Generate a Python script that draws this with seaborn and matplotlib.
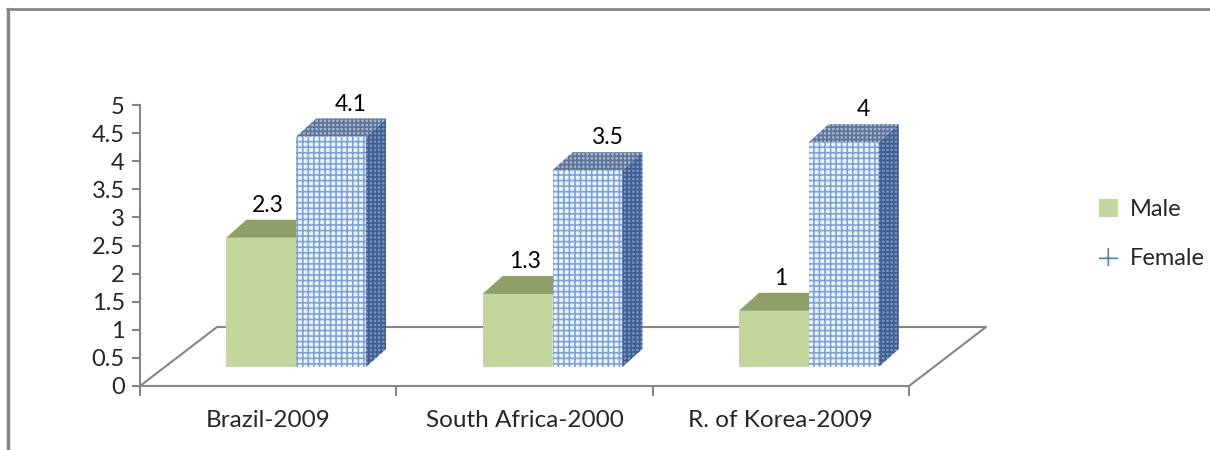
import numpy as np
import pandas as pd
import seaborn as sns
import matplotlib.pyplot as plt
from matplotlib.patches import Polygon, Patch
from matplotlib.lines import Line2D
from matplotlib.transforms import offset_copy

countries = ['Brazil-2009', 'South Africa-2000', 'R. of Korea-2009']
series = ['Male', 'Female']
male = [2.3, 1.3, 1.0]
female = [4.1, 3.5, 4.0]
yticks = np.arange(0, 5.01, 0.5)

df = pd.DataFrame({'country': countries * 2,
                   'sex': ['Male'] * 3 + ['Female'] * 3,
                   'value': male + female})

sns.set_style('white')
plt.rcParams['font.family'] = ['Lato', 'DejaVu Sans']
plt.rcParams['hatch.linewidth'] = 1.2

grey = '#868686'
green = '#C3D69B'
green_top = '#8F9F6A'
blue_line = '#7EA2D6'

fig = plt.figure(figsize=(12.1, 4.5), dpi=100)
ax = fig.add_axes([140 / 1210, 64 / 450, 769 / 1210, 281 / 450])

sns.barplot(data=df, x='country', y='value', hue='sex', palette=[green, '#EEF4FB'],
            width=0.545, saturation=1, legend=False, ax=ax)
ax.set_xlim(-0.5, 2.5)
ax.set_ylim(0, 5)

# pixel sizes of one data unit
px_x = ax.bbox.width / 3
px_y = ax.bbox.height / 5

# bars sit a bit back on the floor
shift = offset_copy(ax.transData, fig=fig, x=28, y=19, units='dots')
bdx, bdy = 20 / px_x, 18 / px_y

for p in list(ax.patches):
    x0, w, h = p.get_x(), p.get_width(), p.get_height()
    is_male = p.get_facecolor()[1] < 0.9
    p.set_transform(shift)
    p.set_clip_on(False)
    p.set_linewidth(0)
    top = [(x0, h), (x0 + w, h), (x0 + w + bdx, h + bdy), (x0 + bdx, h + bdy)]
    side = [(x0 + w, 0), (x0 + w + bdx, bdy), (x0 + w + bdx, h + bdy), (x0 + w, h)]
    if is_male:
        p.set_zorder(3)
        ax.add_patch(Polygon(side, closed=True, facecolor='#A9BA80', lw=0,
                             transform=shift, zorder=2.9, clip_on=False))
        ax.add_patch(Polygon(top, closed=True, facecolor=green_top, lw=0,
                             transform=shift, zorder=3, clip_on=False))
        off = 7
    else:
        p.set_zorder(4)
        p.set_hatch('+++')
        p.set_edgecolor(blue_line)
        ax.add_patch(Polygon(side, closed=True, facecolor='#7590BC', edgecolor='#3F5F90',
                             hatch='++++', lw=0, transform=shift, zorder=4, clip_on=False))
        ax.add_patch(Polygon(top, closed=True, facecolor='#A3B3CB', edgecolor='#5D7499',
                             hatch='++++', lw=0, transform=shift, zorder=4, clip_on=False))
        off = 20
    lab = offset_copy(ax.transData, fig=fig, x=28 + off, y=19 + 18 + 4, units='dots')
    ax.text(x0 + w / 2, h, f'{h:g}', transform=lab, ha='center', va='bottom',
            fontsize=16.5, color='black', zorder=6)

# floor outline
fdx, fdy = 77 / px_x, 59 / px_y
ax.plot([-0.5, -0.5 + fdx, 2.5 + fdx, 2.5], [0, fdy, fdy, 0],
        color=grey, lw=1.5, clip_on=False, zorder=1)

ax.set_xticks([-0.5, 0.5, 1.5, 2.5])
ax.set_xticklabels([])
ax.set_xticks([0, 1, 2], minor=True)
ax.set_xticklabels(countries, minor=True, fontsize=17.5)
ax.tick_params(axis='x', which='major', bottom=True, length=7, width=1.5, color=grey)
ax.tick_params(axis='x', which='minor', bottom=True, length=0, pad=17)
ax.set_yticks(yticks)
ax.set_yticklabels([f'{t:g}' for t in yticks], fontsize=17)
ax.tick_params(axis='y', left=True, length=6, width=1.5, color=grey, pad=5)
ax.set_xlabel('')
ax.set_ylabel('')
sns.despine(ax=ax)
for s in ['left', 'bottom']:
    ax.spines[s].set_color(grey)
    ax.spines[s].set_linewidth(1.5)

# chart area border (cropped)
fig.add_artist(Line2D([7 / 1210, 1], [1 - 9 / 450] * 2, transform=fig.transFigure,
                      color=grey, lw=2))
fig.add_artist(Line2D([8 / 1210] * 2, [0, 1 - 9 / 450], transform=fig.transFigure,
                      color=grey, lw=2.5))

handles = [Patch(facecolor=green, edgecolor='none'),
           Patch(facecolor='white', edgecolor='#4F81BD', hatch='+', lw=0)]
fig.legend(handles, series, loc='center left', bbox_to_anchor=(1078 / 1210, 216 / 450),
           frameon=False, handlelength=0.8, handleheight=0.8, handletextpad=0.5,
           labelspacing=1.2, fontsize=17)

fig.savefig('out.png', dpi=100)
